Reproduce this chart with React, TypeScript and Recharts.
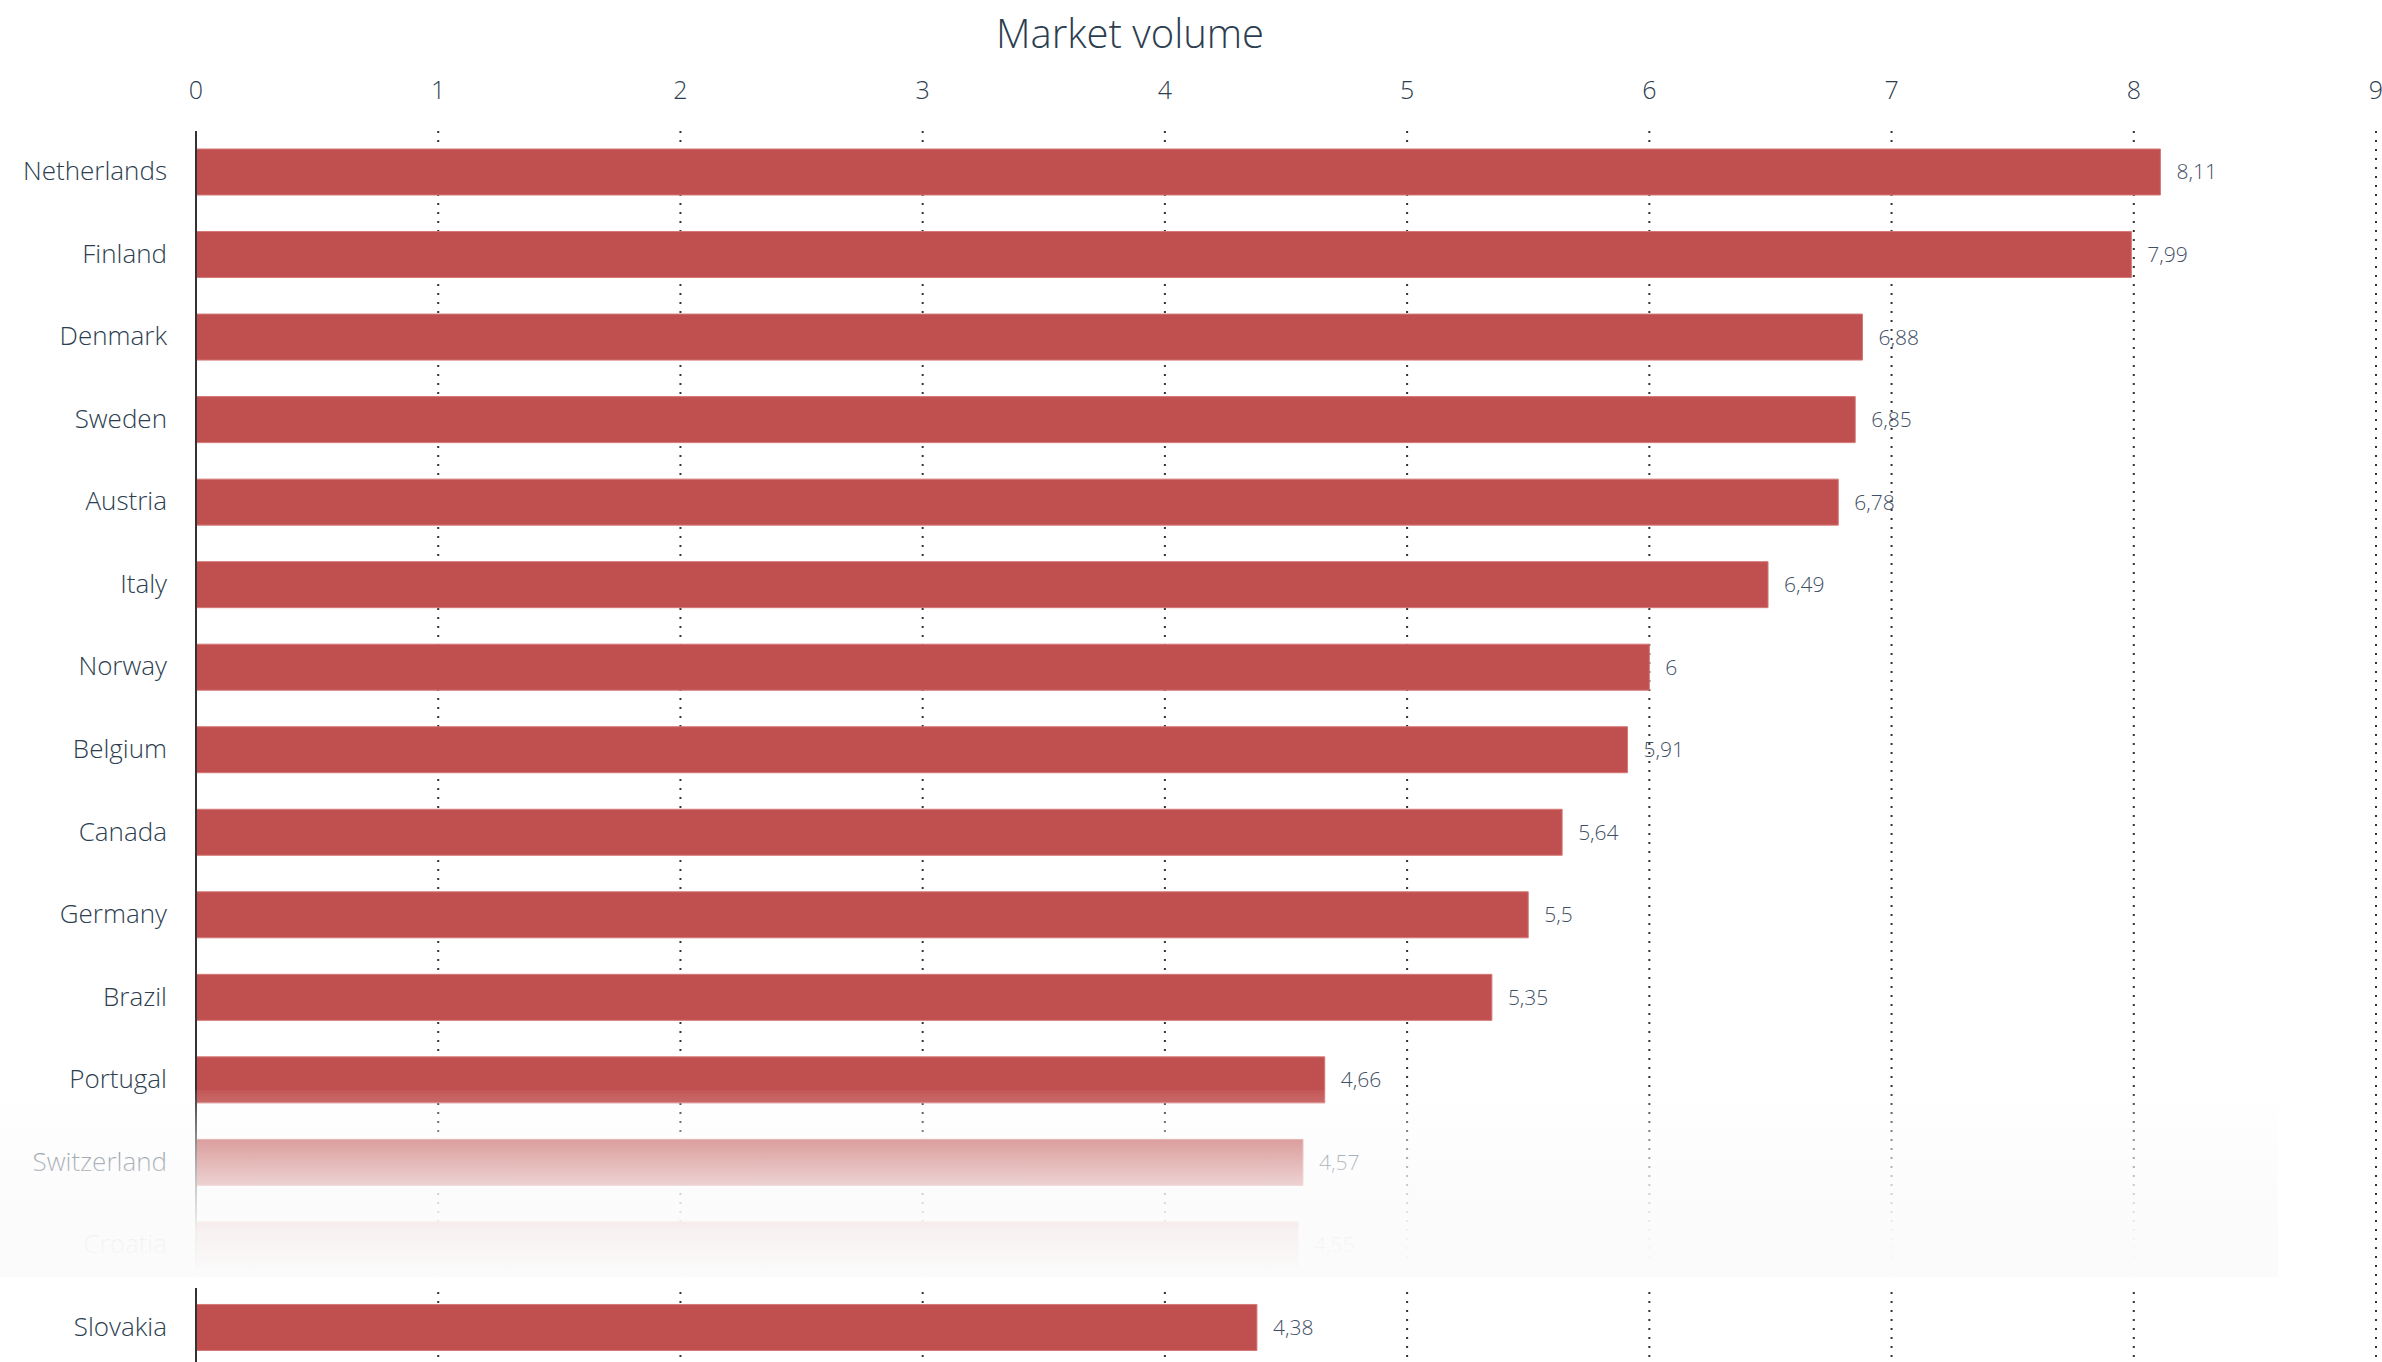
import React from 'react';
import { BarChart, Bar, XAxis, YAxis, CartesianGrid, LabelList } from 'recharts';

const countries = ['Netherlands', 'Finland', 'Denmark', 'Sweden', 'Austria', 'Italy', 'Norway', 'Belgium', 'Canada', 'Germany', 'Brazil', 'Portugal', 'Switzerland', 'Croatia', 'Slovakia'];
const volumes = [8.11, 7.99, 6.88, 6.85, 6.78, 6.49, 6, 5.91, 5.64, 5.5, 5.35, 4.66, 4.57, 4.55, 4.38];
const xTicks = [0, 1, 2, 3, 4, 5, 6, 7, 8, 9];
const title = 'Market volume';

const data = countries.map((c, i) => ({ country: c, value: volumes[i] }));

const FONT = '"Open Sans", "Noto Sans", sans-serif';
const TEXT = '#2c3e50';

const XTick = (props: any) => {
  const { x, y, payload } = props;
  return (
    <text x={x} y={y} textAnchor="middle" fontFamily={FONT} fontWeight={300} fontSize={25} fill={TEXT}>
      {payload.value}
    </text>
  );
};

const YTick = (props: any) => {
  const { x, y, payload } = props;
  return (
    <text x={x} y={y} dy={8} textAnchor="end" fontFamily={FONT} fontWeight={300} fontSize={26} fill={TEXT}>
      {payload.value}
    </text>
  );
};

const fmt = (v: any) => String(v).replace('.', ',');

export default function App() {
  return (
    <div style={{ position: 'absolute', left: 0, top: 0, width: 2382, height: 1362, overflow: 'hidden', background: '#fff' }}>
      <div
        style={{
          position: 'absolute',
          left: 0,
          top: 13,
          width: 2260,
          textAlign: 'center',
          fontFamily: FONT,
          fontWeight: 300,
          fontSize: 40,
          lineHeight: 1,
          color: TEXT,
        }}
      >
        {title}
      </div>
      <div style={{ position: 'absolute', left: 0, top: 0 }}>
        <BarChart
          width={2382}
          height={1372}
          data={data}
          layout="vertical"
          barSize={46}
          margin={{ top: 91, right: 6, bottom: 3, left: 0 }}
        >
          <CartesianGrid horizontal={false} vertical={true} stroke="#333" strokeWidth={2} strokeDasharray="2 7" />
          <XAxis
            type="number"
            orientation="top"
            domain={[0, 9]}
            ticks={xTicks}
            height={40}
            axisLine={false}
            tickLine={false}
            tickSize={0}
            tickMargin={32}
            tick={<XTick />}
            interval={0}
          />
          <YAxis
            type="category"
            dataKey="country"
            width={196}
            axisLine={{ stroke: '#333', strokeWidth: 2 }}
            tickLine={false}
            tickSize={0}
            tickMargin={29}
            tick={<YTick />}
            interval={0}
          />
          <Bar dataKey="value" fill="#c0504f" stroke="#d47876" strokeWidth={1} isAnimationActive={false}>
            <LabelList
              dataKey="value"
              position="right"
              offset={16}
              formatter={fmt}
              fontFamily={FONT}
              fontWeight={300}
              fontSize={21}
              fill="#3f5064"
            />
          </Bar>
        </BarChart>
      </div>
      <div
        style={{
          position: 'absolute',
          left: 0,
          top: 1090,
          width: 2278,
          height: 187,
          background:
            'linear-gradient(to bottom, rgba(251,251,251,0.04) 0%, rgba(251,251,251,0.44) 25%, rgba(251,251,251,0.75) 50%, rgba(251,251,251,0.94) 75%, rgba(251,251,251,1) 100%)',
        }}
      />
      <div style={{ position: 'absolute', left: 0, top: 1277, width: 2278, height: 11, background: '#fff' }} />
    </div>
  );
}
